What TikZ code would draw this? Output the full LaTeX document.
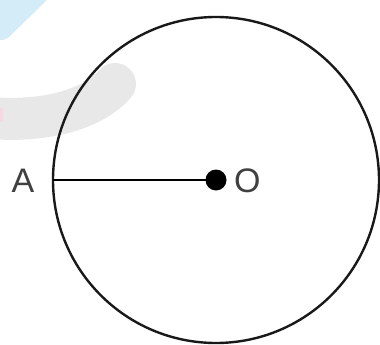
\documentclass[tikz,border=0pt]{standalone}
\usepackage{fontspec}
\setmainfont{Liberation Sans}
\definecolor{wmblue}{HTML}{D4ECF8}
\definecolor{wmgray}{HTML}{E8E8E8}
\definecolor{wmpink}{HTML}{F8D8E0}
\begin{document}
\begin{tikzpicture}[x=1pt,y=-1pt,
  lbl/.style={font=\fontsize{34}{36}\selectfont, text=black!75, inner sep=0pt},
  rim/.style={draw=black!90, line width=2.4pt},
  radius line/.style={draw=black, line width=2.8pt}]
\useasboundingbox (0,0) rectangle (380,345);
% faint watermark shapes
\fill[wmblue] (0,0) -- (47,0) -- (10,36) to[out=225,in=0] (0,40) -- cycle;
\draw[wmgray, line width=42pt, line cap=round] (-10,118) .. controls (40,122) and (90,112) .. (115,84);
\fill[wmpink] (0,108) rectangle (3,122);
% circle
\coordinate (O) at (216,180);
\draw[rim] (O) circle[radius=163];
\coordinate (A) at (53,180);
\draw[radius line] (A) -- (O);
\fill[black] (O) circle[radius=10.5];
\node[lbl, anchor=west] (Olbl) at (234,181) {O};
\node[lbl] (Albl) at (23,181) {A};
\end{tikzpicture}
\end{document}
